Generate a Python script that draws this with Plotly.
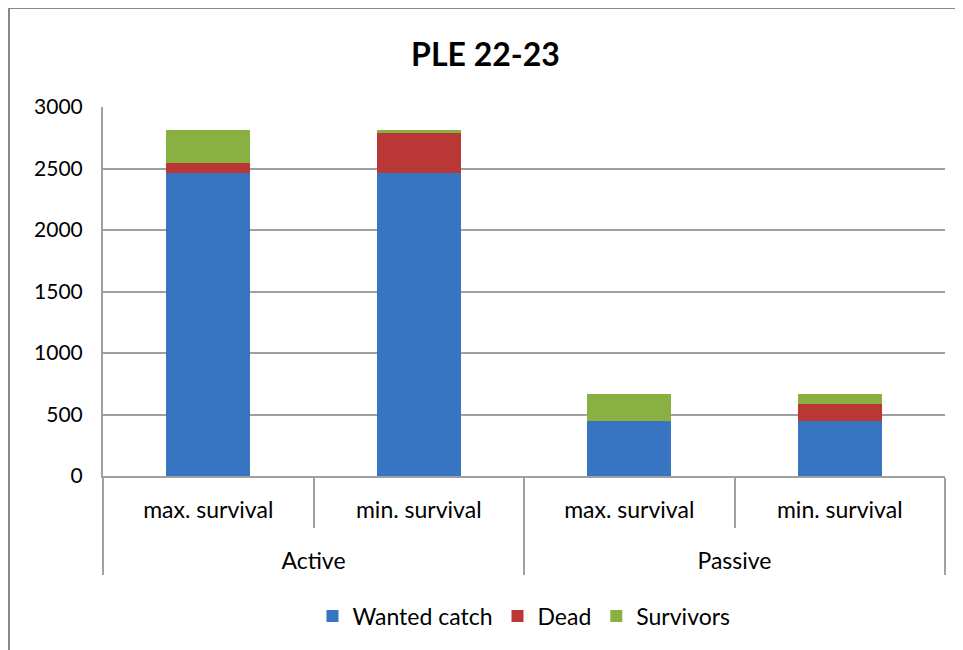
import plotly.graph_objects as go

groups = ["Active", "Active", "Passive", "Passive"]
scenarios = ["max. survival", "min. survival", "max. survival", "min. survival"]
wanted_catch = [2460, 2460, 450, 450]
dead = [85, 330, 0, 135]
survivors = [265, 20, 217, 80]

colors = {"Wanted catch": "#3774C2", "Dead": "#B93836", "Survivors": "#89B141"}
FONT = "Lato, Liberation Sans, Arial, sans-serif"

W, H = 955, 642
L, R, T, B = 95, 18, 99, 174
pw, ph = W - L - R, H - T - B

fig = go.Figure()
for name, vals in [("Wanted catch", wanted_catch), ("Dead", dead), ("Survivors", survivors)]:
    fig.add_trace(go.Bar(x=[groups, [s + "<br><span style='font-size:38px'> </span>" for s in scenarios]],
                         y=vals, name=name,
                         marker=dict(color=colors[name], line=dict(width=0))))

fig.update_layout(
    barmode="stack", bargap=0.6,
    width=W, height=H,
    margin=dict(l=L, r=R, t=T, b=B),
    paper_bgcolor="white", plot_bgcolor="white",
    font=dict(family=FONT, size=21, color="#000"),
    title=dict(text="<b>PLE 22-23</b>", x=0.5, xanchor="center", y=1 - 47 / H, yanchor="middle",
               font=dict(family=FONT, size=32)),
    legend=dict(orientation="h", x=0.5, xanchor="center", y=-140 / ph, yanchor="middle",
                font=dict(size=23), traceorder="normal"),
    xaxis=dict(type="multicategory", showline=True, linecolor="#A0A0A0", linewidth=2,
               showdividers=True, dividercolor="#A0A0A0", dividerwidth=2,
               ticks="outside", tickson="boundaries", ticklen=50, tickcolor="#A0A0A0", tickwidth=2,
               ticklabelstandoff=12, tickfont=dict(size=23)),
    yaxis=dict(range=[0, 3000], dtick=500, showgrid=True, gridcolor="#A0A0A0", gridwidth=2,
               showline=True, linecolor="#A0A0A0", linewidth=2, zeroline=False,
               ticks="", ticklabelstandoff=14, tickfont=dict(size=21)),
    shapes=[dict(type="rect", xref="paper", yref="paper", x0=-(L - 1) / pw, x1=1 + (R + 20) / pw,
                 y0=-(B + 20) / ph, y1=1 + T / ph, line=dict(color="#888888", width=2), layer="below")],
)

fig.write_html("out.html")
